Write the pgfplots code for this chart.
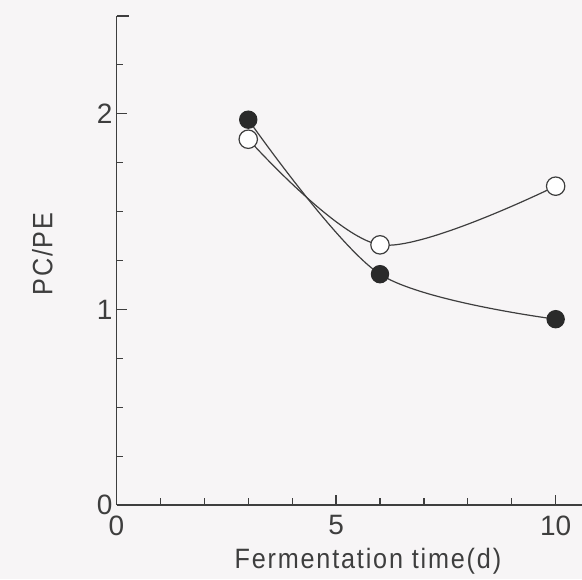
\documentclass[border=0pt]{standalone}
\usepackage{fontspec}
\setmainfont{Liberation Sans}
\newfontfamily\spaced[LetterSpace=6.5, FakeStretch=0.9]{Liberation Sans}
\usepackage{pgfplots}
\pgfplotsset{compat=1.18}
\definecolor{paper}{RGB}{247,245,246}
\definecolor{ink}{RGB}{62,62,62}
\definecolor{dot}{RGB}{42,42,42}

\begin{document}
\begin{tikzpicture}[x=1pt,y=1pt]
\fill[paper] (0,0) rectangle (291,289.5);
\useasboundingbox (0,0) rectangle (291,289.5);
\begin{axis}[
  at={(58.25pt,37pt)}, anchor=south west,
  scale only axis, width=232.75pt, height=244.5pt,
  xmin=0, xmax=10.6, ymin=0, ymax=2.5,
  axis x line=bottom, axis y line=left,
  axis line style={-, ink, line width=0.6pt},
  tick align=inside,
  xtick={0,5,10}, ytick={0,1,2},
  minor xtick={1,2,3,4,6,7,8,9},
  minor ytick={0.25,0.5,0.75,1.25,1.5,1.75,2.25},
  extra y ticks={2.5}, extra y tick labels={},
  extra y tick style={major tick length=6pt},
  major tick length=5pt, minor tick length=3.3pt,
  every tick/.style={ink, line width=0.6pt},
  /pgf/number format/assume math mode=true,
  tick label style={font=\fontsize{14}{16}\selectfont, text=ink},
  xticklabel style={yshift=-1.8pt},
  yticklabel style={xshift=1.5pt},
  xlabel={Fermentation time(d)},
  ylabel={PC/PE},
  xlabel style={at={(axis description cs:0.540,-0.129)}, anchor=base,
    font=\spaced\fontsize{14}{16}\selectfont, text=ink},
  ylabel style={at={(axis description cs:-0.159,0.513)}, anchor=center,
    font=\spaced\fontsize{14}{16}\selectfont, text=ink},
  clip=false,
]
% filled circles
\addplot[ink, line width=0.6pt, smooth, mark=*, mark size=4.3pt,
  mark options={fill=dot, draw=dot}]
  coordinates {(3,1.97) (6,1.18) (10,0.95)};
% open circles
\addplot[ink, line width=0.6pt, smooth, mark=*, mark size=4.6pt,
  mark options={fill=white, draw=ink, line width=0.6pt}]
  coordinates {(3,1.87) (6,1.33) (10,1.63)};
\end{axis}
\end{tikzpicture}
\end{document}
